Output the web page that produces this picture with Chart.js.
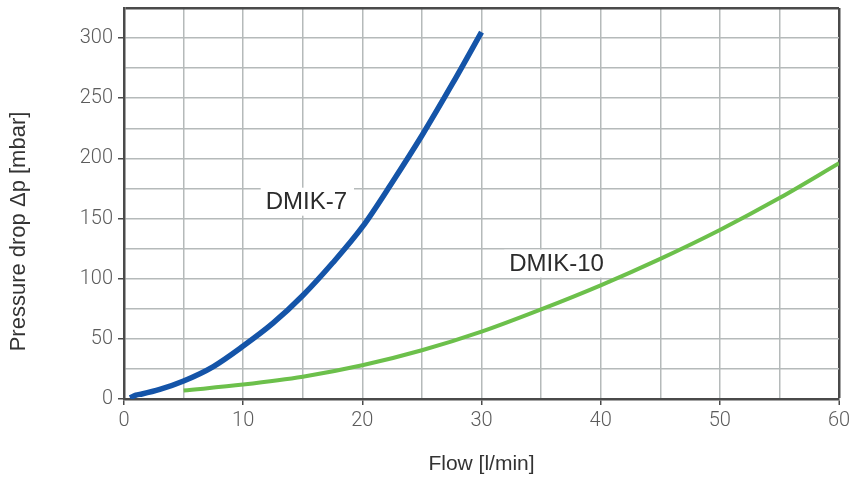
<!DOCTYPE html>
<html>
<head>
<meta charset="utf-8">
<script src="https://cdn.jsdelivr.net/npm/chart.js@4"></script>
<style>
  html, body { margin: 0; padding: 0; background: #fff; }
  #wrap { width: 853px; height: 481px; }
</style>
</head>
<body>
<div id="wrap"><canvas id="chart" width="853" height="481"></canvas></div>
<script>
// Flow [l/min] vs pressure drop [mbar]
const dmik7Flow = [0.5, 1, 1.5, 3, 5, 7.5, 10, 12.5, 15, 17.5, 20, 22.5, 25, 27.5, 30];
const dmik7Drop = [1, 3.2, 4.2, 8, 15, 27, 44, 63, 86, 113, 143, 180, 219, 261, 305];

const dmik10Flow = [5, 10, 15, 20, 25, 30, 35, 40, 45, 50, 55, 60];
const dmik10Drop = [7, 12, 18.5, 28, 40.5, 56, 74.5, 94.5, 116.5, 140.5, 167, 196];

// curve labels, anchored in data units (flow, drop)
const curveLabels = [
    { text: 'DMIK-7', flow: 15.3, drop: 164 },
    { text: 'DMIK-10', flow: 36.3, drop: 112.5 }
];

const yTitle = 'Pressure drop Δp [mbar]';

const gridColor = '#b5baba';
const frameColor = '#4a4a4a';
const tickFont = { family: 'Roboto', size: 20, weight: 300 };
const titleFont = { family: 'Liberation Sans', size: 21 };

function toPoints(xs, ys) {
    return xs.map((x, i) => ({ x: x, y: ys[i] }));
}

// white boxes + text for the curve names, drawn under the lines
const curveLabelPlugin = {
    id: 'curveLabels',
    beforeDatasetsDraw(chart) {
        const ctx = chart.ctx;
        const xs = chart.scales.x;
        const ys = chart.scales.y;
        ctx.save();
        ctx.font = '24px "Liberation Sans"';
        ctx.textAlign = 'center';
        ctx.textBaseline = 'middle';
        curveLabels.forEach(l => {
            const px = xs.getPixelForValue(l.flow);
            const py = ys.getPixelForValue(l.drop);
            const w = ctx.measureText(l.text).width;
            ctx.fillStyle = '#fff';
            ctx.fillRect(px - w / 2 - 5, py - 14, w + 12, 28);
            ctx.fillStyle = '#2b2b2b';
            ctx.fillText(l.text, px, py + 1);
        });
        ctx.restore();
    }
};

// y axis title sits a bit below the middle of the plot in the original
const yTitlePlugin = {
    id: 'yTitle',
    afterDraw(chart) {
        const ctx = chart.ctx;
        const area = chart.chartArea;
        ctx.save();
        ctx.font = '22px "Liberation Sans"';
        ctx.fillStyle = '#333';
        ctx.textAlign = 'center';
        ctx.textBaseline = 'middle';
        ctx.translate(19, (area.top + area.bottom) / 2 + 28);
        ctx.rotate(-Math.PI / 2);
        ctx.fillText(yTitle, 0, 0);
        ctx.restore();
    }
};

const ctx = document.getElementById('chart').getContext('2d');
const chart = new Chart(ctx, {
    type: 'line',
    data: {
        datasets: [
            {
                label: 'DMIK-7',
                data: toPoints(dmik7Flow, dmik7Drop),
                borderColor: '#1454a8',
                borderWidth: 5.5,
                pointRadius: 0,
                cubicInterpolationMode: 'monotone',
                borderCapStyle: 'butt',
                fill: false
            },
            {
                label: 'DMIK-10',
                data: toPoints(dmik10Flow, dmik10Drop),
                borderColor: '#6cc04b',
                borderWidth: 4,
                pointRadius: 0,
                cubicInterpolationMode: 'monotone',
                fill: false
            }
        ]
    },
    options: {
        responsive: false,
        animation: false,
        layout: { padding: { top: 8, right: 14, left: 0, bottom: 0 } },
        plugins: {
            legend: { display: false },
            tooltip: { enabled: false }
        },
        scales: {
            x: {
                type: 'linear',
                min: 0,
                max: 60,
                afterFit: s => {
                    s.height = 82;
                    s.paddingLeft = 0;
                    s.paddingRight = 0;
                },
                ticks: {
                    stepSize: 5,
                    autoSkip: false,
                    maxRotation: 0,
                    padding: 4,
                    color: '#5c5c5c',
                    font: tickFont,
                    callback: v => (v % 10 === 0 ? v : '')
                },
                grid: {
                    color: c => (c.tick && c.tick.value === 60 ? frameColor : gridColor),
                    lineWidth: c => (c.tick && c.tick.value === 60 ? 2.5 : 1.5),
                    tickLength: 6,
                    tickColor: c => (c.tick && c.tick.value % 10 === 0 ? frameColor : 'rgba(0,0,0,0)'),
                    tickWidth: 1.5
                },
                border: { color: frameColor, width: 2.5 },
                title: {
                    display: true,
                    text: 'Flow [l/min]',
                    color: '#333',
                    font: titleFont,
                    padding: { top: 0, bottom: 4 }
                }
            },
            y: {
                type: 'linear',
                min: 0,
                max: 325,
                afterFit: s => {
                    s.width = 124;
                    s.paddingTop = 0;
                    s.paddingBottom = 0;
                },
                ticks: {
                    stepSize: 25,
                    autoSkip: false,
                    padding: 5,
                    color: '#5c5c5c',
                    font: tickFont,
                    callback: v => (v % 50 === 0 ? v : '')
                },
                grid: {
                    color: c => (c.tick && c.tick.value === 325 ? frameColor : gridColor),
                    lineWidth: c => (c.tick && c.tick.value === 325 ? 2.5 : 1.5),
                    tickLength: 6,
                    tickColor: c => (c.tick && c.tick.value % 50 === 0 ? frameColor : 'rgba(0,0,0,0)'),
                    tickWidth: 1.5
                },
                border: { color: frameColor, width: 2.5 }
            }
        }
    },
    plugins: [curveLabelPlugin, yTitlePlugin]
});
</script>
</body>
</html>
